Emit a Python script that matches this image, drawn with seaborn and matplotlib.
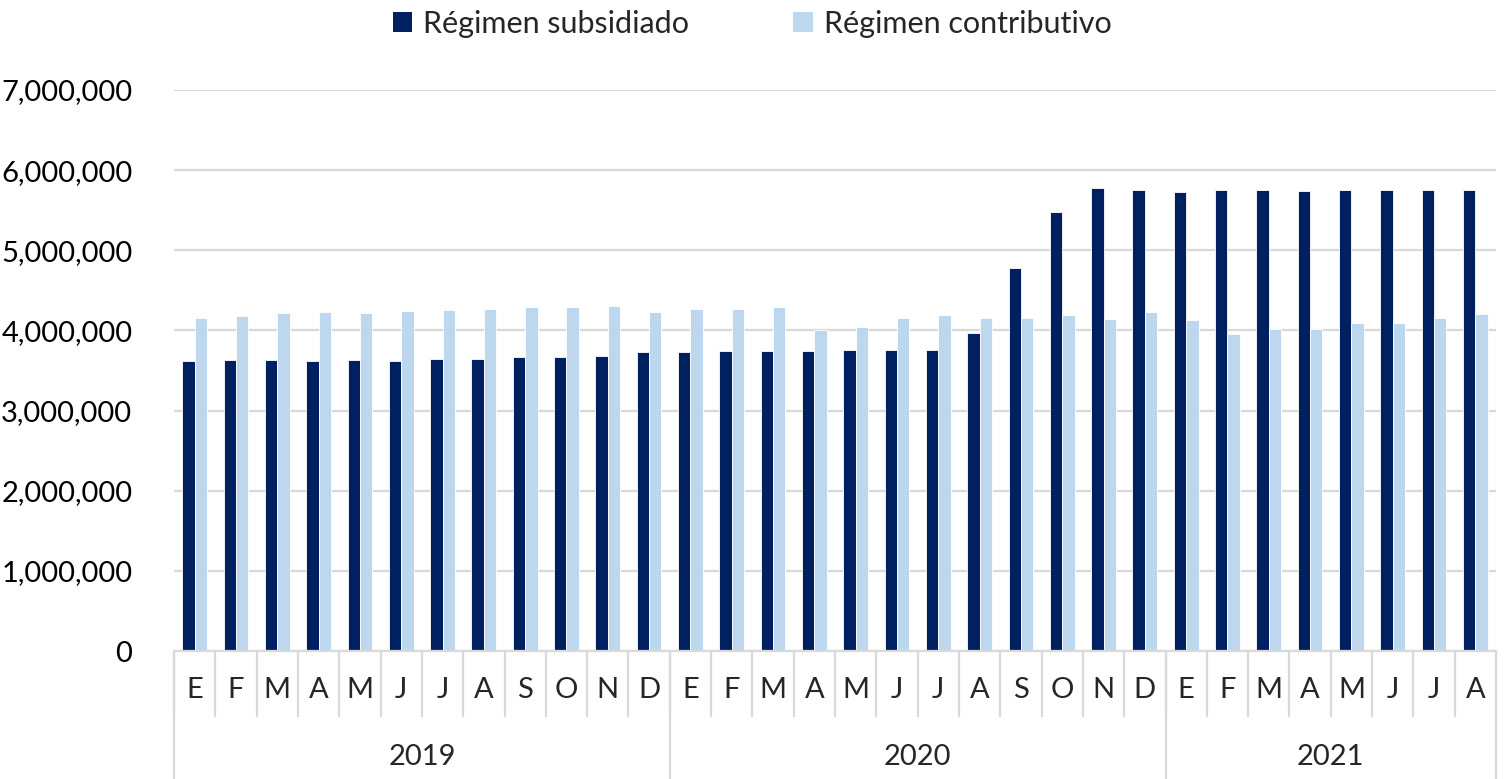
import pandas as pd
import seaborn as sns
import matplotlib.pyplot as plt
from matplotlib.patches import Patch
from matplotlib.ticker import FuncFormatter

# meses por ano
anos = ['2019', '2020', '2021']
meses_2019 = ['E', 'F', 'M', 'A', 'M', 'J', 'J', 'A', 'S', 'O', 'N', 'D']
meses_2020 = ['E', 'F', 'M', 'A', 'M', 'J', 'J', 'A', 'S', 'O', 'N', 'D']
meses_2021 = ['E', 'F', 'M', 'A', 'M', 'J', 'J', 'A']

# afiliados
subsidiado = [3622000, 3631000, 3631000, 3622000, 3627000, 3615000, 3640000, 3640000,
              3665000, 3665000, 3681000, 3731000,
              3727000, 3740000, 3743000, 3743000, 3756000, 3756000, 3756000, 3968000,
              4779000, 5478000, 5774000, 5757000,
              5724000, 5749000, 5757000, 5740000, 5757000, 5757000, 5749000, 5757000]
contributivo = [4159000, 4184000, 4218000, 4230000, 4222000, 4243000, 4255000, 4272000,
                4289000, 4297000, 4305000, 4230000,
                4268000, 4268000, 4292000, 4005000, 4043000, 4159000, 4193000, 4159000,
                4151000, 4193000, 4143000, 4226000,
                4126000, 3952000, 4022000, 4022000, 4093000, 4093000, 4151000, 4205000]

series = ['Régimen subsidiado', 'Régimen contributivo']
colores = ['#002060', '#BDD7EE']

meses = meses_2019 + meses_2020 + meses_2021
n_por_ano = [len(meses_2019), len(meses_2020), len(meses_2021)]
etiquetas = [f'{i:02d}-{m}' for i, m in enumerate(meses)]

df = pd.DataFrame({
    'periodo': etiquetas * 2,
    'regimen': [series[0]] * len(meses) + [series[1]] * len(meses),
    'valor': subsidiado + contributivo,
})

sns.set_theme(style='white')
plt.rcParams['font.family'] = ['Lato', 'DejaVu Sans']

fig = plt.figure(figsize=(15.04, 7.79), dpi=100)
ax = fig.add_axes([174 / 1504, 1 - 651 / 779, (1496 - 174) / 1504, (651 - 90) / 779])

sns.barplot(data=df, x='periodo', y='valor', hue='regimen', palette=colores,
            saturation=1, width=0.6, ax=ax, legend=False, edgecolor='white',
            linewidth=0.6)

ax.set_ylim(0, 7000000)
ax.set_xlim(-0.5, len(meses) - 0.5)
ax.set_yticks(range(0, 7000001, 1000000))
ax.yaxis.set_major_formatter(FuncFormatter(lambda v, p: f'{int(v):,}'))
ax.tick_params(axis='y', labelsize=21, length=0, pad=30, colors='#000000')
ax.yaxis.grid(True, color='#D9D9D9', linewidth=1.6)
ax.set_axisbelow(True)
ax.set_xticks([])
ax.set_xlabel('')
ax.set_ylabel('')
for s in ['top', 'right', 'left']:
    ax.spines[s].set_visible(False)
ax.spines['bottom'].set_color('#D9D9D9')
ax.spines['bottom'].set_linewidth(1.6)

# etiquetas de mes y separadores
trans = ax.get_xaxis_transform()
for i, m in enumerate(meses):
    ax.text(i, -0.07, m, transform=trans, ha='center', va='center', fontsize=21)
    ax.plot([i - 0.5, i - 0.5], [0, -0.116], transform=trans, color='#D9D9D9',
            linewidth=1.6, clip_on=False)

# etiquetas de ano
inicio = 0
for ano, n in zip(anos, n_por_ano):
    ax.text(inicio + n / 2 - 0.5, -0.189, ano, transform=trans, ha='center', va='center',
            fontsize=21)
    ax.plot([inicio - 0.5, inicio - 0.5], [0, -0.23], transform=trans, color='#D9D9D9',
            linewidth=1.6, clip_on=False)
    inicio += n
ax.plot([inicio - 0.5, inicio - 0.5], [0, -0.23], transform=trans, color='#D9D9D9',
        linewidth=1.6, clip_on=False)

# leyenda
handles = [Patch(facecolor=c, edgecolor='none') for c in colores]
fig.legend(handles, series, loc='center', bbox_to_anchor=(0.5, 1 - 24 / 779), ncol=2,
           frameon=False, fontsize=22, handlelength=0.65, handleheight=0.65,
           handletextpad=0.35, columnspacing=3.4)

fig.savefig('out.png', dpi=100)
